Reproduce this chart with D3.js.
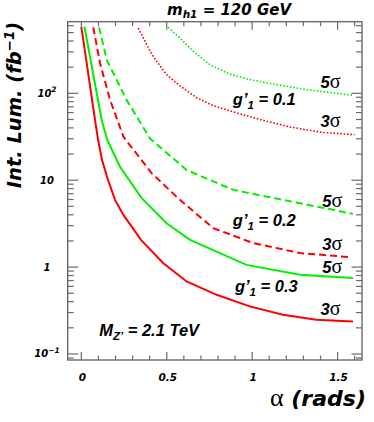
<!DOCTYPE html>
<meta charset="utf-8">
<style>
body { margin: 0; background: #fff; }
text { font-family: "DejaVu Sans", sans-serif; font-weight: bold; font-style: italic; fill: #000; }
.lbl { font-family: "Liberation Sans", Arial, sans-serif; font-size: 16.5px; }
.sig { font-family: "Liberation Serif", serif; font-style: normal; font-weight: normal; }
</style>
<svg width="374" height="422"></svg>
<script src="https://d3js.org/d3.v7.min.js"></script>
<script>

// g'1 = 0.3  (solid)
var alpha03_3s = [0.0, 0.080, 0.098, 0.121, 0.156, 0.197, 0.246, 0.349, 0.480, 0.616, 0.792, 0.986, 1.180, 1.376, 1.590];
var lum03_3s   = [583, 49.3, 29.0, 17.1, 10.1, 5.94, 3.99, 2.06, 1.11, 0.683, 0.48, 0.353, 0.283, 0.248, 0.237];
var alpha03_5s = [0.018, 0.119, 0.152, 0.226, 0.353, 0.499, 0.636, 0.967, 1.279, 1.591];
var lum03_5s   = [583, 49.3, 29.0, 14.3, 6.21, 3.20, 2.06, 1.06, 0.815, 0.747];

// g'1 = 0.2  (dashed)
var alpha02_3s = [0.070, 0.109, 0.168, 0.246, 0.412, 0.577, 0.772, 1.006, 1.280, 1.580];
var lum02_3s   = [574, 223, 84, 31.7, 12.0, 5.94, 2.81, 1.89, 1.45, 1.30];
var alpha02_5s = [0.104, 0.149, 0.265, 0.402, 0.616, 0.889, 1.181, 1.474, 1.590];
var lum02_5s   = [574, 241, 84, 30.2, 13.1, 7.74, 5.94, 4.56, 4.10];

// g'1 = 0.1  (dotted)
var alpha01_3s = [0.333, 0.373, 0.402, 0.441, 0.499, 0.577, 0.675, 0.772, 0.928, 1.045, 1.220, 1.413, 1.600];
var lum01_3s   = [563, 396, 304, 233, 164, 122, 89, 72, 58, 50, 41, 35.5, 33.4];
var alpha01_5s = [0.509, 0.577, 0.655, 0.753, 0.870, 0.977, 1.122, 1.320, 1.590];
var lum01_5s   = [574, 432, 304, 213, 166, 145, 128, 110, 95];

// axis ticks
var xMajor = [0, 0.5, 1, 1.5];
var xLabels = ["0", "0.5", "1", "1.5"];
var yMajor = [0.1, 1, 10, 100];
var yBase = ["10", "1", "10", "10"];
var yExp  = ["\u22121", "", "", "2"];

// annotations
var sigmaText  = ["5", "3", "5", "3", "5", "3"];
var sigmaAlpha = [1.40, 1.40, 1.41, 1.41, 1.41, 1.40];
var sigmaLum   = [115, 41.5, 4.93, 1.58, 0.853, 0.283];
var gText  = ["0.1", "0.2", "0.3"];
var gAlpha = [0.887, 0.887, 0.899];
var gLum   = [72.8, 2.98, 0.516];

var svg = d3.select("svg");
var fL = 67.7, fR = 362, fT = 21.7, fB = 360;

var x = d3.scaleLinear().domain([-0.08, 1.643]).range([fL, fR]);
var y = d3.scaleLog().domain([0.0853, 667]).range([fB, fT]);

var red = "#ff0000", green = "#00f000", axisCol = "#6a6a6a";

svg.append("clipPath").attr("id", "frame")
  .append("rect").attr("x", fL).attr("y", fT).attr("width", fR - fL).attr("height", fB - fT);

// curves
var curves = [
  {a: alpha03_3s, l: lum03_3s, c: red,   dash: null,      w: 2},
  {a: alpha03_5s, l: lum03_5s, c: green, dash: null,      w: 2},
  {a: alpha02_3s, l: lum02_3s, c: red,   dash: "7,4",     w: 2},
  {a: alpha02_5s, l: lum02_5s, c: green, dash: "7,4",     w: 2},
  {a: alpha01_3s, l: lum01_3s, c: red,   dash: "1.6,1.8", w: 1.6},
  {a: alpha01_5s, l: lum01_5s, c: green, dash: "1.6,1.8", w: 1.6}
];

var line = d3.line().x(function(d) { return x(d[0]); }).y(function(d) { return y(d[1]); });

svg.append("g").attr("clip-path", "url(#frame)")
  .selectAll("path").data(curves).enter().append("path")
    .attr("fill", "none")
    .attr("stroke", function(d) { return d.c; })
    .attr("stroke-width", function(d) { return d.w; })
    .attr("stroke-dasharray", function(d) { return d.dash; })
    .attr("d", function(d) { return line(d.a.map(function(v, i) { return [v, d.l[i]]; })); });

// frame + ticks on all sides
var xMinor = d3.range(0, 1.65, 0.1).filter(function(v) { return Math.abs(v * 2 - Math.round(v * 2)) > 1e-6; });
var yMinor = [];
[0.01, 0.1, 1, 10, 100].forEach(function(dec) {
  for (let k = 2; k < 10; k++) {
    var v = k * dec;
    if (v > y.domain()[0] && v < y.domain()[1]) yMinor.push(v);
  }
});

var tk = svg.append("g").attr("stroke", axisCol).attr("stroke-width", 1.2);
function ticksX(vals, len) {
  vals.forEach(function(v) {
    tk.append("line").attr("x1", x(v)).attr("x2", x(v)).attr("y1", fB).attr("y2", fB - len);
    tk.append("line").attr("x1", x(v)).attr("x2", x(v)).attr("y1", fT).attr("y2", fT + len);
  });
}
function ticksY(vals, len) {
  vals.forEach(function(v) {
    tk.append("line").attr("y1", y(v)).attr("y2", y(v)).attr("x1", fL).attr("x2", fL + len);
    tk.append("line").attr("y1", y(v)).attr("y2", y(v)).attr("x1", fR).attr("x2", fR - len);
  });
}
ticksX(xMajor, 8);
ticksX(xMinor, 4.5);
ticksY(yMajor, 10.5);
ticksY(yMinor, 6);

svg.append("rect").attr("x", fL).attr("y", fT).attr("width", fR - fL).attr("height", fB - fT)
  .attr("fill", "none").attr("stroke", axisCol).attr("stroke-width", 1.4);

// tick labels
svg.append("g").selectAll("text").data(xMajor).enter().append("text")
  .attr("x", function(d) { return x(d) + 1; })
  .attr("y", fB + 21)
  .attr("text-anchor", "middle")
  .attr("font-size", 10.5)
  .text(function(d, i) { return xLabels[i]; });

var yl = svg.append("g").selectAll("text").data(yMajor).enter().append("text")
  .attr("x", 47)
  .attr("y", function(d) { return y(d); })
  .attr("dy", "0.35em")
  .attr("text-anchor", "middle")
  .attr("font-size", 10);
yl.append("tspan").text(function(d, i) { return yBase[i]; });
yl.append("tspan").attr("dy", -4.5).attr("font-size", 7.5).text(function(d, i) { return yExp[i]; });

// axis titles
var yt = svg.append("text")
  .attr("transform", "translate(21,105) rotate(-90)")
  .attr("text-anchor", "middle")
  .attr("font-size", 19.5);
yt.append("tspan").text("Int. Lum. (fb");
yt.append("tspan").attr("dy", -7).attr("font-size", 13.5).text("\u22121");
yt.append("tspan").attr("dy", 7).text(")");

var xt = svg.append("text").attr("x", 270).attr("y", 406).attr("font-size", 22);
xt.append("tspan").attr("class", "sig").attr("font-size", 26).text("\u03b1");
xt.append("tspan").text(" (rads)");

var tt = svg.append("text").attr("x", 167).attr("y", 15).attr("font-size", 15);
tt.append("tspan").text("m");
tt.append("tspan").attr("dy", 3).attr("font-size", 10.5).text("h1");
tt.append("tspan").attr("dy", -3).text(" = 120 GeV");

// curve labels
var sl = svg.append("g").selectAll("text").data(sigmaText).enter().append("text")
  .attr("class", "lbl")
  .attr("x", function(d, i) { return x(sigmaAlpha[i]); })
  .attr("y", function(d, i) { return y(sigmaLum[i]); });
sl.append("tspan").text(function(d) { return d; });
sl.append("tspan").attr("class", "sig").attr("font-size", 20).text("\u03c3");

var gl = svg.append("g").selectAll("text").data(gText).enter().append("text")
  .attr("class", "lbl")
  .attr("x", function(d, i) { return x(gAlpha[i]); })
  .attr("y", function(d, i) { return y(gLum[i]); });
gl.append("tspan").text("g\u2019");
gl.append("tspan").attr("dy", 4).attr("font-size", 11.5).text("1");
gl.append("tspan").attr("dy", -4).text(function(d) { return " = " + d; });

var mz = svg.append("text").attr("class", "lbl")
  .attr("x", x(0.104)).attr("y", y(0.159));
mz.append("tspan").text("M");
mz.append("tspan").attr("dy", 4).attr("font-size", 11.5).text("Z\u2019");
mz.append("tspan").attr("dy", -4).text(" = 2.1 TeV");

</script>
